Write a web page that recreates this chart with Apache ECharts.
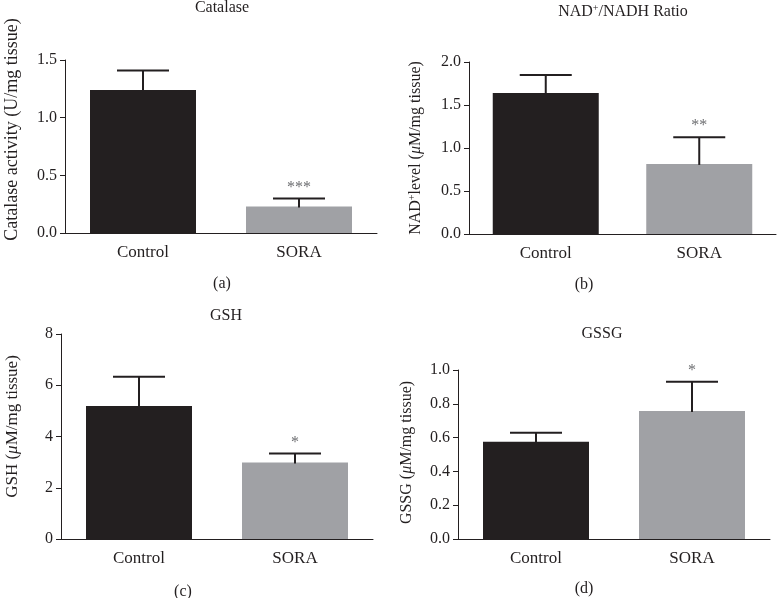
<!DOCTYPE html>
<html>
<head>
<meta charset="utf-8">
<script src="https://cdn.jsdelivr.net/npm/echarts@6/dist/echarts.min.js"></script>
<style>html,body{margin:0;padding:0;background:#fff}#c{width:777px;height:598px}</style>
</head>
<body>
<div id="c"></div>
<script>
const categories = ['Control', 'SORA'];

const catalaseMean = [1.24, 0.23];
const catalaseSem = [0.17, 0.07];
const catalaseStars = ['', '***'];

const nadMean = [1.64, 0.815];
const nadSem = [0.21, 0.31];
const nadStars = ['', '**'];

const gshMean = [5.19, 2.99];
const gshSem = [1.14, 0.35];
const gshStars = ['', '*'];

const gssgMean = [0.576, 0.757];
const gssgSem = [0.053, 0.173];
const gssgStars = ['', '*'];

const yMaxes = [1.5, 2.0, 8, 1.0];
const yIntervals = [0.5, 0.5, 2, 0.2];
const yDecimals = [1, 1, 0, 1];

const panelTitles = ['Catalase', 'NAD{sup|+}/NADH Ratio', 'GSH', 'GSSG'];
const panelLetters = ['(a)', '(b)', '(c)', '(d)'];
const yNames = [
  'Catalase activity (U/mg tissue)',
  'NAD{sup|+}level ({i|μ}M/mg tissue)',
  'GSH ({i|μ}M/mg tissue)',
  'GSSG ({i|μ}M/mg tissue)'
];

const means = [catalaseMean, nadMean, gshMean, gssgMean];
const sems = [catalaseSem, nadSem, gshSem, gssgSem];
const stars = [catalaseStars, nadStars, gshStars, gssgStars];

const FONT = '"Liberation Serif", "DejaVu Serif", serif';
const INK = '#231f20';
const barColors = ['#231f20', '#a0a1a5'];

const grids = [
  {left: 65, top: 60, width: 312, height: 173},
  {left: 469, top: 62, width: 307, height: 172},
  {left: 61, top: 334, width: 312, height: 205},
  {left: 458, top: 370, width: 312, height: 169}
];
const nameGaps = [44, 44, 40, 43];
const namePads = [[0,0,0,34],[0,0,0,0],[0,0,0,20],[0,0,0,4]];
const nameSizes = [18, 16, 17, 16];
const titlePos = [[222, 0], [623, 3], [226, 308], [602, 326]];
const letterPos = [[222, 276], [584, 277], [183, 584], [584, 581]];

const richDefs = {
  sup: {fontSize: 10, verticalAlign: 'top', padding: [0,0,8,0], fontFamily: FONT, color: INK},
  i: {fontStyle: 'italic', fontFamily: FONT, color: INK}
};

const option = {
  backgroundColor: '#fff',
  animation: false,
  title: [],
  grid: [],
  xAxis: [],
  yAxis: [],
  series: []
};

for (let k = 0; k < 4; k++) {
  option.grid.push(Object.assign({containLabel: false}, grids[k]));
  option.title.push({
    text: panelTitles[k], left: titlePos[k][0], top: titlePos[k][1], textAlign: 'center', padding: 0,
    textStyle: {fontFamily: FONT, fontSize: 16, fontWeight: 'normal', color: INK,
      rich: {sup: {fontSize: 10, verticalAlign: 'top', padding: [0,0,8,0], fontFamily: FONT, color: INK}}}
  });
  option.title.push({
    text: panelLetters[k], left: letterPos[k][0], top: letterPos[k][1], textAlign: 'center', padding: 0,
    textStyle: {fontFamily: FONT, fontSize: 16, fontWeight: 'normal', color: INK}
  });
  option.xAxis.push({
    type: 'category', gridIndex: k, data: categories,
    axisLine: {lineStyle: {color: INK, width: 1}},
    axisTick: {alignWithLabel: true, length: 5, lineStyle: {color: INK}},
    axisLabel: {fontFamily: FONT, fontSize: 17, color: INK, margin: 11}
  });
  const dec = yDecimals[k];
  option.yAxis.push({
    type: 'value', gridIndex: k, min: 0, max: yMaxes[k], interval: yIntervals[k],
    name: yNames[k], nameLocation: 'middle', nameGap: nameGaps[k],
    nameTextStyle: {fontFamily: FONT, fontSize: nameSizes[k], color: INK, padding: namePads[k], rich: richDefs},
    axisLine: {show: true, lineStyle: {color: INK, width: 1}},
    axisTick: {show: true, length: 5, lineStyle: {color: INK}},
    axisLabel: {fontFamily: FONT, fontSize: 16, color: INK, margin: 8, formatter: v => v.toFixed(dec)},
    splitLine: {show: false}
  });
  option.series.push({
    type: 'bar', xAxisIndex: k, yAxisIndex: k, barWidth: 106,
    data: means[k].map((v, i) => ({value: v, itemStyle: {color: barColors[i]}}))
  });
  const st = stars[k];
  option.series.push({
    type: 'custom', xAxisIndex: k, yAxisIndex: k,
    encode: {x: 0, y: [1, 2]},
    data: means[k].map((v, i) => [i, v, v + sems[k][i]]),
    renderItem: function (params, api) {
      const x = api.value(0), m = api.value(1), t = api.value(2);
      const p0 = api.coord([x, m]);
      const p1 = api.coord([x, t]);
      const hw = 26;
      const style = {stroke: INK, lineWidth: 2};
      const children = [
        {type: 'line', shape: {x1: p0[0], y1: p0[1] + 1, x2: p1[0], y2: p1[1]}, style: style},
        {type: 'line', shape: {x1: p1[0] - hw, y1: p1[1], x2: p1[0] + hw, y2: p1[1]}, style: style}
      ];
      const s = st[params.dataIndex];
      if (s) {
        children.push({type: 'text', x: p1[0], y: p1[1] - 3,
          style: {text: s, fontFamily: FONT, fontSize: 16, fill: '#6d6e71', align: 'center', verticalAlign: 'bottom'}});
      }
      return {type: 'group', children: children};
    },
    z: 3
  });
}

const chart = echarts.init(document.getElementById('c'), null, {renderer: 'canvas'});
chart.setOption(option);
</script>
</body>
</html>
